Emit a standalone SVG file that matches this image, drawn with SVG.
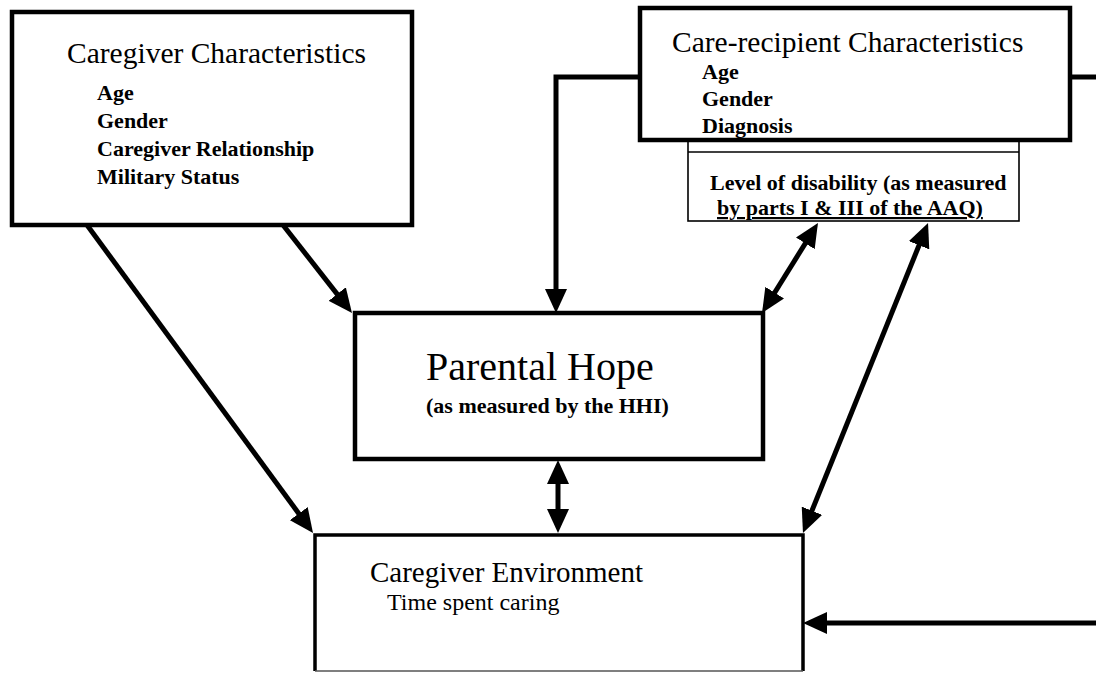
<svg xmlns="http://www.w3.org/2000/svg" width="1096" height="675" viewBox="0 0 1096 675">
  <style>
    text { font-family: "Liberation Serif", "Times New Roman", serif; fill: #000; }
    .title { font-size: 29.5px; }
    .item { font-size: 22px; font-weight: bold; }
    .box { fill: #fff; stroke: #000; stroke-width: 4.5; }
    .thin { fill: #fff; stroke: #000; stroke-width: 1.6; }
    .conn { fill: none; stroke: #000; stroke-width: 5; }
  </style>
  <defs>
    <marker id="ah" markerUnits="userSpaceOnUse" viewBox="0 0 24 22" markerWidth="24" markerHeight="22" refX="14" refY="11" orient="auto-start-reverse">
      <path d="M0,0 L24,11 L0,22 z" fill="#000"/>
    </marker>
  </defs>
  <rect width="1096" height="675" fill="#fff"/>

  <g id="connectors">
    <path class="conn" d="M87,225 L307.1,524.9" marker-end="url(#ah)"/>
    <path class="conn" d="M283,225 L345.8,305.1" marker-end="url(#ah)"/>
    <path class="conn" d="M640,77 H556 V303" marker-end="url(#ah)"/>
    <path class="conn" d="M1070,77 H1096"/>
    <path class="conn" d="M812.7,231.5 L767.3,304.5" marker-start="url(#ah)" marker-end="url(#ah)"/>
    <path class="conn" d="M924.3,232.3 L806.7,523.7" marker-start="url(#ah)" marker-end="url(#ah)"/>
    <path class="conn" d="M558,470 V523" marker-start="url(#ah)" marker-end="url(#ah)"/>
    <path class="conn" d="M1096,623 H813" marker-end="url(#ah)"/>
  </g>

  <g id="caregiver-characteristics">
    <rect class="box" x="12" y="12" width="400" height="213"/>
    <text class="title" x="67" y="63">Caregiver Characteristics</text>
    <text class="item" x="97" y="100">Age</text>
    <text class="item" x="97" y="128">Gender</text>
    <text class="item" x="97" y="156">Caregiver Relationship</text>
    <text class="item" x="97" y="184">Military Status</text>
  </g>

  <g id="level-of-disability">
    <rect class="thin" x="688" y="138" width="331" height="83"/>
    <line x1="688" y1="152" x2="1019" y2="152" stroke="#000" stroke-width="1.6"/>
    <text class="item" x="710" y="190">Level of disability (as measured</text>
    <text class="item" x="717" y="215" text-decoration="underline">by parts I &amp; III of the AAQ)</text>
  </g>

  <g id="care-recipient-characteristics">
    <rect class="box" x="640" y="8" width="430" height="132"/>
    <text class="title" x="672" y="52">Care-recipient Characteristics</text>
    <text class="item" x="702" y="79">Age</text>
    <text class="item" x="702" y="106">Gender</text>
    <text class="item" x="702" y="133">Diagnosis</text>
  </g>

  <g id="parental-hope">
    <rect class="box" x="355" y="313" width="408" height="146"/>
    <text x="426" y="380" style="font-size:40px">Parental Hope</text>
    <text class="item" x="426" y="413">(as measured by the HHI)</text>
  </g>

  <g id="caregiver-environment">
    <rect x="315" y="535" width="488" height="136" fill="#fff"/>
    <path d="M315,671 V535 H803 V671" fill="none" stroke="#000" stroke-width="3.5"/>
    <line x1="315" y1="671" x2="803" y2="671" stroke="#555" stroke-width="1.6"/>
    <text x="370" y="582" style="font-size:29px">Caregiver Environment</text>
    <text x="387" y="610" style="font-size:24px">Time spent caring</text>
  </g>
</svg>
